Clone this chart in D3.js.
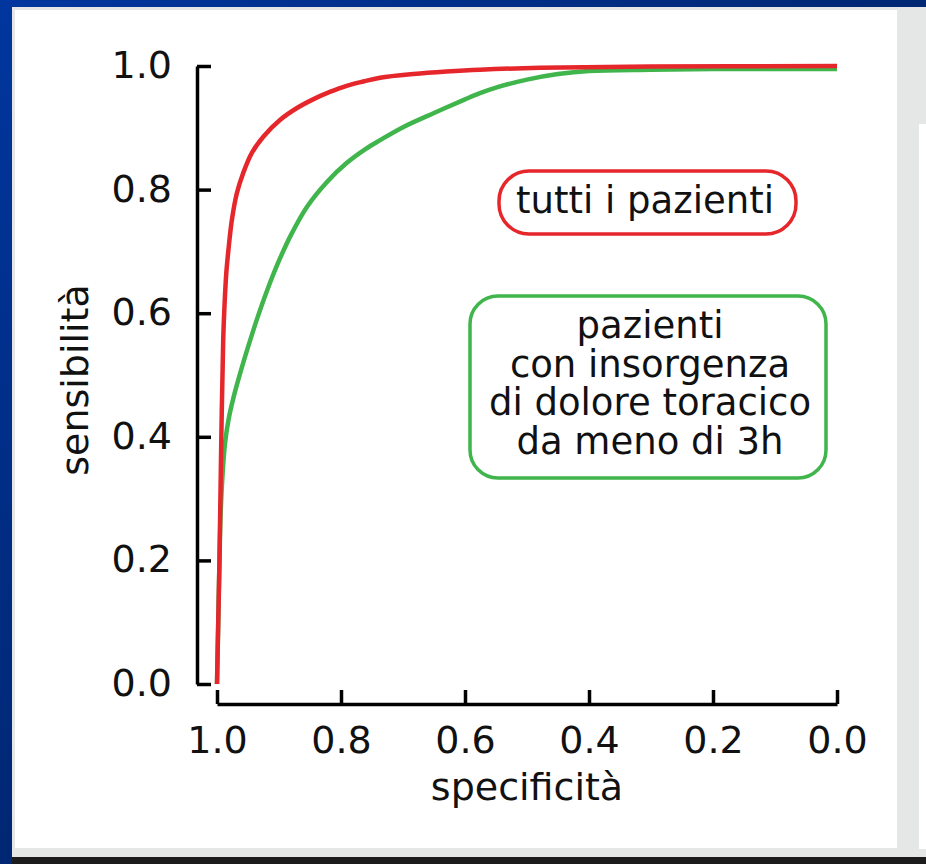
<!DOCTYPE html>
<html>
<head>
<meta charset="utf-8">
<script src="https://cdn.jsdelivr.net/npm/d3@7"></script>
<style>
  html, body { margin: 0; padding: 0; background: #fff; }
  svg { display: block; }
  text { font-family: "DejaVu Sans", sans-serif; fill: #111; }
</style>
</head>
<body>
<script>
// ---- data ----
const xTicks = [1.0, 0.8, 0.6, 0.4, 0.2, 0.0];
const yTicks = [0.0, 0.2, 0.4, 0.6, 0.8, 1.0];
const xLabel = "specificità";
const yLabel = "sensibilità";

// "tutti i pazienti" (red)
const redSpec = [1.0, 0.998, 0.996, 0.993, 0.990, 0.988, 0.985, 0.981, 0.976, 0.968, 0.958, 0.944, 0.925, 0.898, 0.871, 0.845, 0.818, 0.791, 0.764, 0.737, 0.683, 0.630, 0.576, 0.479, 0.30, 0.0];
const redSens = [0.0, 0.10, 0.20, 0.40, 0.557, 0.61, 0.665, 0.708, 0.751, 0.794, 0.826, 0.859, 0.886, 0.913, 0.932, 0.946, 0.958, 0.968, 0.975, 0.981, 0.987, 0.991, 0.994, 0.997, 0.999, 1.0];

// "pazienti con insorgenza di dolore toracico da meno di 3h" (green)
const greenSpec = [1.0, 0.998, 0.996, 0.994, 0.991, 0.987, 0.981, 0.973, 0.962, 0.950, 0.935, 0.918, 0.900, 0.880, 0.855, 0.823, 0.791, 0.760, 0.737, 0.700, 0.650, 0.600, 0.576, 0.550, 0.500, 0.450, 0.400, 0.300, 0.200, 0.0];
const greenSens = [0.0, 0.10, 0.20, 0.28, 0.34, 0.39, 0.43, 0.465, 0.505, 0.545, 0.592, 0.640, 0.685, 0.728, 0.772, 0.812, 0.843, 0.866, 0.880, 0.901, 0.924, 0.946, 0.956, 0.965, 0.978, 0.987, 0.992, 0.994, 0.995, 0.995];

const boxRedText = ["tutti i pazienti"];
const boxGreenText = ["pazienti", "con insorgenza", "di dolore toracico", "da meno di 3h"];

const RED = "#e5262b";
const GREEN = "#3fb54b";

// ---- svg ----
const W = 926, H = 864;
const svg = d3.select("body").append("svg").attr("width", W).attr("height", H);

const defs = svg.append("defs");
const grad = defs.append("linearGradient").attr("id", "bg")
  .attr("x1", 0).attr("y1", 0).attr("x2", 1).attr("y2", 1);
grad.append("stop").attr("offset", "0%").attr("stop-color", "#00369e");
grad.append("stop").attr("offset", "100%").attr("stop-color", "#001848");

svg.append("rect").attr("width", W).attr("height", H).attr("fill", "url(#bg)");
svg.append("rect").attr("x", 12).attr("y", 7).attr("width", W - 12).attr("height", 850).attr("fill", "#e5e7e7");
svg.append("rect").attr("x", 15).attr("y", 10).attr("width", 882).attr("height", 838).attr("fill", "#ffffff");
svg.append("rect").attr("x", 919).attr("y", 124).attr("width", 7).attr("height", 725).attr("fill", "#ffffff");
svg.append("rect").attr("x", 12).attr("y", 857).attr("width", W - 12).attr("height", 7).attr("fill", "#1c1c1c");

// ---- scales ----
const x = d3.scaleLinear().domain([1, 0]).range([217, 837]);
const y = d3.scaleLinear().domain([0, 1]).range([684, 66]);

// ---- axes ----
const fmt = d3.format(".1f");
const yAxis = d3.axisLeft(y).tickValues(yTicks).tickFormat(fmt)
  .tickSizeInner(-14).tickSizeOuter(0).tickPadding(25);
const xAxis = d3.axisBottom(x).tickValues(xTicks).tickFormat(fmt)
  .tickSizeInner(-14).tickSizeOuter(0).tickPadding(22);

const gy = svg.append("g").attr("transform", "translate(197,0)").call(yAxis);
const gx = svg.append("g").attr("transform", "translate(0,704)").call(xAxis);

[gy, gx].forEach(g => {
  g.select(".domain").attr("stroke", "#000").attr("stroke-width", 3.5);
  g.selectAll(".tick line").attr("stroke", "#000").attr("stroke-width", 3.5);
  g.selectAll(".tick text").attr("font-family", "DejaVu Sans").attr("font-size", 38).attr("fill", "#111");
});
gy.selectAll(".tick text").attr("dy", "0.3em");

svg.append("text").attr("x", 527).attr("y", 800).attr("text-anchor", "middle")
  .attr("font-size", 38).text(xLabel);
svg.append("text").attr("transform", "translate(88,380) rotate(-90)").attr("text-anchor", "middle")
  .attr("font-size", 38).text(yLabel);

// ---- curves ----
const line = d3.line().x(d => x(d[0])).y(d => y(d[1])).curve(d3.curveCatmullRom.alpha(0.5));
const greenData = greenSpec.map((s, i) => [s, greenSens[i]]);
const redData = redSpec.map((s, i) => [s, redSens[i]]);

svg.append("path").datum(greenData).attr("d", line).attr("fill", "none")
  .attr("stroke", GREEN).attr("stroke-width", 4.5).attr("stroke-linejoin", "round");
svg.append("path").datum(redData).attr("d", line).attr("fill", "none")
  .attr("stroke", RED).attr("stroke-width", 4.5).attr("stroke-linejoin", "round");

// ---- annotation boxes ----
svg.append("rect").attr("x", 499).attr("y", 171).attr("width", 297).attr("height", 63)
  .attr("rx", 30).attr("ry", 30).attr("fill", "#fff").attr("stroke", RED).attr("stroke-width", 3.5);
svg.append("text").attr("x", 645).attr("y", 213).attr("text-anchor", "middle")
  .attr("font-size", 37).text(boxRedText[0]);

svg.append("rect").attr("x", 470).attr("y", 296).attr("width", 356).attr("height", 182)
  .attr("rx", 28).attr("ry", 28).attr("fill", "#fff").attr("stroke", GREEN).attr("stroke-width", 3.5);
svg.append("g").selectAll("text").data(boxGreenText).join("text")
  .attr("x", 650).attr("y", (d, i) => 338 + i * 38.5).attr("text-anchor", "middle")
  .attr("font-size", 37).text(d => d);
</script>
</body>
</html>
